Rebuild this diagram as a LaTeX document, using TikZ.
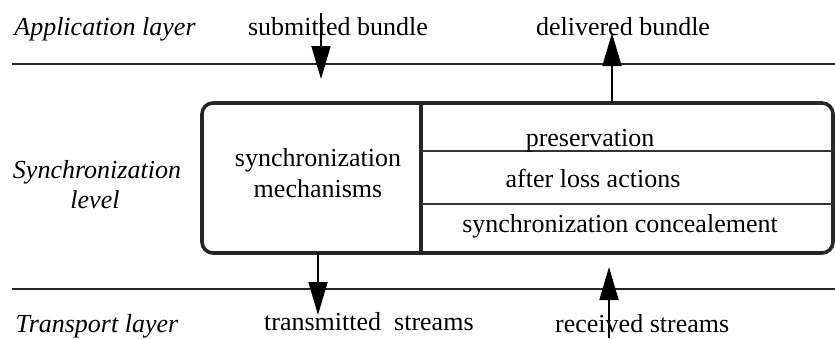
\documentclass[tikz,border=0pt]{standalone}
\usepackage{fontspec}
\setmainfont{Liberation Serif}
\usetikzlibrary{arrows.meta}
\begin{document}
\begin{tikzpicture}[x=1pt,y=-1pt,
  lbl/.style={inner sep=0pt, anchor=base, font=\fontsize{26}{30}\selectfont},
  ilbl/.style={lbl, font=\fontsize{26}{30}\selectfont\itshape},
  layerline/.style={line width=2.6pt, black!85},
  flow/.style={line width=1.8pt, -{Triangle[length=33pt,width=19pt]}},
  frame/.style={line width=3.6pt, black!85, rounded corners=11pt},
  sep/.style={line width=1.3pt, black!80}]
\useasboundingbox (0,0) rectangle (835,338);

% layer lines
\coordinate (tl) at (12,64); \coordinate (tr) at (835,64);
\coordinate (bl) at (12,289); \coordinate (br) at (835,289);
\draw[layerline] (tl) -- (tr);
\draw[layerline] (bl) -- (br);

% main box
\coordinate (boxnw) at (202,103); \coordinate (boxse) at (833,253);
\draw[frame] (boxnw) rectangle (boxse);
\coordinate (divt) at (421,103); \coordinate (divb) at (421,253);
\draw[line width=3.4pt, black!85] (divt) -- (divb);
\coordinate (s1l) at (421,151); \coordinate (s1r) at (833,151);
\coordinate (s2l) at (421,204); \coordinate (s2r) at (833,204);
\draw[sep] (s1l) -- (s1r);
\draw[sep] (s2l) -- (s2r);

% left labels
\node[ilbl] (app) at (105,35) {Application layer};
\node[ilbl] (sync1) at (97,178) {Synchronization};
\node[ilbl] (sync2) at (95,208) {level};
\node[ilbl] (trans) at (97,332) {Transport layer};

% box texts
\node[lbl] (mech1) at (318,166) {synchronization};
\node[lbl] (mech2) at (318,197) {mechanisms};
\node[lbl] (pres) at (590,146) {preservation};
\node[lbl] (alo) at (593,187) {after loss actions};
\node[lbl] (conc) at (620,232) {synchronization concealement};

% flow labels
\node[lbl] (sub) at (338,35) {submitted bundle};
\node[lbl] (del) at (623,35) {delivered bundle};
\node[lbl, anchor=base west] (tx) at (264,330) {transmitted\ \ streams};
\node[lbl, anchor=base west] (rx) at (555,332) {received streams};

% arrows
\coordinate (a1s) at (321,13); \coordinate (a1e) at (321,79);
\coordinate (a2s) at (612,103); \coordinate (a2e) at (612,33);
\coordinate (a3s) at (318,253); \coordinate (a3e) at (318,315);
\coordinate (a4s) at (609,338); \coordinate (a4e) at (609,267);
\draw[flow] (a1s) -- (a1e);
\draw[flow] (a2s) -- (a2e);
\draw[flow] (a3s) -- (a3e);
\draw[flow] (a4s) -- (a4e);
\end{tikzpicture}
\end{document}
